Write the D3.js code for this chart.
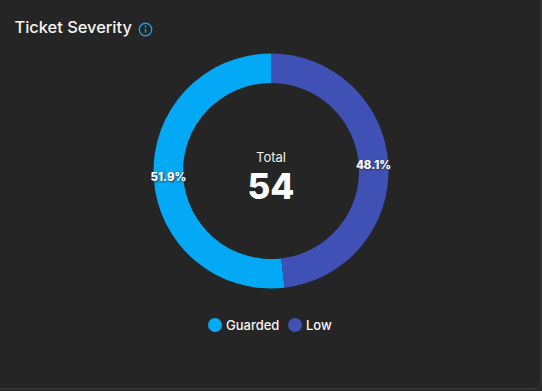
<!DOCTYPE html>
<html>
<head>
<meta charset="utf-8">
<script src="https://cdn.jsdelivr.net/npm/d3@7"></script>
<style>
  html, body { margin: 0; padding: 0; background: #262626; }
  svg { display: block; font-family: Inter, "Noto Sans", sans-serif; }
</style>
</head>
<body>
<svg width="542" height="391"></svg>
<script>
// chart data
var categories = ["Guarded", "Low"]
var values = [28, 26]
var colors = ["#03a9f4", "#3f51b5"]
var total = d3.sum(values)

var svg = d3.select("svg")

// card
svg.append("rect").attr("width", 542).attr("height", 391).attr("fill", "#2a2a2a")
svg.append("rect").attr("x", -8).attr("y", -8).attr("width", 549).attr("height", 396.5)
  .attr("rx", 8).attr("fill", "#252525").attr("stroke", "#3a3a3a")

// title
svg.append("text").attr("x", 14.5).attr("y", 33).attr("fill", "#f5f5f5")
  .attr("font-size", 16.4).attr("font-weight", 500).text("Ticket Severity")

// info icon
var info = svg.append("g").attr("transform", "translate(145.5,29.5)")
info.append("circle").attr("r", 6.2).attr("fill", "none").attr("stroke", "#1a9fd9").attr("stroke-width", 1.4)
info.append("line").attr("y1", -0.8).attr("y2", 3.2).attr("stroke", "#1a9fd9").attr("stroke-width", 1.4)
info.append("circle").attr("cy", -3).attr("r", 0.9).attr("fill", "#1a9fd9")

// donut
var pie = d3.pie().sort(null).startAngle(0).endAngle(-2 * Math.PI)
var arc = d3.arc().innerRadius(88).outerRadius(117.5)
var donut = svg.append("g").attr("transform", "translate(271,171)")

donut.selectAll("path")
  .data(pie(values))
  .join("path")
  .attr("d", arc)
  .attr("fill", (d, i) => colors[i])

donut.selectAll("text.pct")
  .data(pie(values))
  .join("text")
  .attr("class", "pct")
  .attr("x", d => arc.centroid(d)[0])
  .attr("y", d => arc.centroid(d)[1])
  .attr("dy", "0.35em")
  .attr("text-anchor", "middle")
  .attr("font-size", 11.5)
  .attr("font-weight", 800)
  .attr("fill", "#fff")
  .style("text-shadow", "1px 1px 2px #333")
  .text(d => (d.value / total * 100).toFixed(1) + "%")

// center label
svg.append("text").attr("x", 271).attr("y", 162).attr("text-anchor", "middle")
  .attr("fill", "#f2f2f2").attr("font-size", 13).text("Total")
svg.append("text").attr("x", 271).attr("y", 199).attr("text-anchor", "middle")
  .attr("fill", "#fff").attr("font-size", 35).attr("font-weight", 800).text(total)

// legend
var legendX = d3.scaleOrdinal().domain(categories).range([215, 295])
var legend = svg.selectAll("g.legend")
  .data(categories)
  .join("g")
  .attr("class", "legend")
  .attr("transform", d => "translate(" + legendX(d) + ",325)")
legend.append("circle").attr("r", 7).attr("fill", (d, i) => colors[i])
legend.append("text").attr("x", 11).attr("dy", "0.35em")
  .attr("fill", "#f5f5f5").attr("font-size", 13).attr("font-weight", 500).text(d => d)
</script>
</body>
</html>
